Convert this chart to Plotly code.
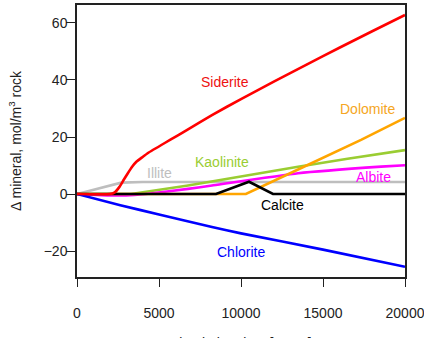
import plotly.graph_objects as go

# ---- data ----
siderite_t = [0, 2000, 2300, 2600, 2850, 3100, 3350, 3620, 4000, 4330, 5350, 6100, 6770, 8230, 10000, 12000, 14000, 16000, 18000, 20000]
siderite_v = [0, 0, 0.6, 2.6, 5.0, 7.3, 9.5, 11.3, 13.0, 14.4, 17.9, 20.4, 22.7, 27.7, 33.3, 39.4, 45.4, 51.3, 57.1, 62.8]

dolomite_t = [0, 8600, 10300, 13480, 17320, 20000]
dolomite_v = [0, 0, 0, 8.6, 19.0, 26.7]

kaolinite_t = [0, 3300, 6770, 10000, 13480, 16500, 20000]
kaolinite_v = [0, 0, 3.0, 6.3, 9.6, 12.4, 15.4]

illite_t = [0, 1300, 2700, 4000, 20000]
illite_v = [0, 1.9, 4.0, 4.2, 4.2]

albite_t = [0, 1500, 3000, 4200, 6770, 8230, 13480, 18540, 20000]
albite_v = [0, -0.4, -0.5, 0.0, 1.8, 3.0, 7.3, 9.6, 10.1]

calcite_t = [0, 8480, 10490, 11950, 20000]
calcite_v = [0, 0, 4.3, 0, 0]

chlorite_t = [0, 2640, 5000, 8230, 10000, 15000, 20000]
chlorite_v = [0, -3.9, -7.2, -11.6, -13.8, -19.5, -25.5]

label_names = ["Siderite", "Dolomite", "Kaolinite", "Illite", "Albite", "Calcite", "Chlorite"]
label_x = [9006, 17710, 8840, 5030, 18050, 12500, 10030]
label_y = [39.4, 29.8, 11.3, 7.4, 5.8, -3.7, -20.2]
label_colors = ["#EE1111", "#F5A623", "#9ACD32", "#BEBEBE", "#FF00FF", "#000000", "#0000FF"]

x_ticks = [0, 5000, 10000, 15000, 20000]
x_ticktext = ["0", "5000", "10000", "15000", "20000"]
y_ticks = [-20, 0, 20, 40, 60]
y_ticktext = ["\u221220", "0", "20", "40", "60"]

series = [
    ("Illite", illite_t, illite_v, "#BEBEBE", "linear"),
    ("Kaolinite", kaolinite_t, kaolinite_v, "#9ACD32", "linear"),
    ("Albite", albite_t, albite_v, "#FF00FF", "spline"),
    ("Dolomite", dolomite_t, dolomite_v, "#FFA500", "linear"),
    ("Calcite", calcite_t, calcite_v, "#000000", "linear"),
    ("Chlorite", chlorite_t, chlorite_v, "#0000FF", "spline"),
    ("Siderite", siderite_t, siderite_v, "#FF0000", "spline"),
]

FONT = "Liberation Sans, Arial, sans-serif"

fig = go.Figure()
for name, t, v, c, shp in series:
    line = dict(color=c, width=2.6, shape=shp)
    if shp == "spline":
        line["smoothing"] = 0.4
    fig.add_trace(go.Scatter(x=t, y=v, mode="lines", name=name, line=line,
                             showlegend=False, hoverinfo="skip"))

for n, x, y, c in zip(label_names, label_x, label_y, label_colors):
    fig.add_annotation(x=x, y=y, text=n, showarrow=False,
                       font=dict(family=FONT, size=14, color=c),
                       xanchor="center", yanchor="middle")

# axis titles as annotations for precise placement
fig.add_annotation(xref="paper", yref="paper", x=(15 - 77) / 328, y=0.5,
                   text="\u0394 mineral, mol/m<sup>3</sup> rock", textangle=-90,
                   showarrow=False, font=dict(family=FONT, size=14, color="#222222"),
                   xanchor="center", yanchor="middle")
fig.add_annotation(xref="paper", yref="paper", x=0.5, y=-(333 - 277) / 272,
                   text="Simulation time [years]", showarrow=False,
                   font=dict(family=FONT, size=14, color="#222222"),
                   xanchor="center", yanchor="top")

fig.update_layout(
    width=424, height=338,
    margin=dict(l=77, r=19, t=5, b=61, autoexpand=False),
    paper_bgcolor="white", plot_bgcolor="white",
    font=dict(family=FONT, size=14, color="#222222"),
)
fig.update_xaxes(range=[0, 20000], tickvals=x_ticks, ticktext=x_ticktext,
                 showgrid=False, zeroline=False, showline=True, linecolor="#222222",
                 linewidth=1.5, mirror=True, ticks="outside", ticklen=8, tickwidth=1.3,
                 tickcolor="#222222", ticklabelstandoff=14, ticklabeloverflow="allow",
                 automargin=False,
                 tickfont=dict(family=FONT, size=14, color="#222222"))
fig.update_yaxes(range=[-29.1, 66.3], tickvals=y_ticks, ticktext=y_ticktext,
                 showgrid=False, zeroline=False, showline=True, linecolor="#222222",
                 linewidth=1.5, mirror=True, ticks="outside", ticklen=9, tickwidth=1.3,
                 tickcolor="#222222", ticklabelstandoff=-4, automargin=False,
                 tickfont=dict(family=FONT, size=14, color="#222222"))

fig.write_html("out.html")
